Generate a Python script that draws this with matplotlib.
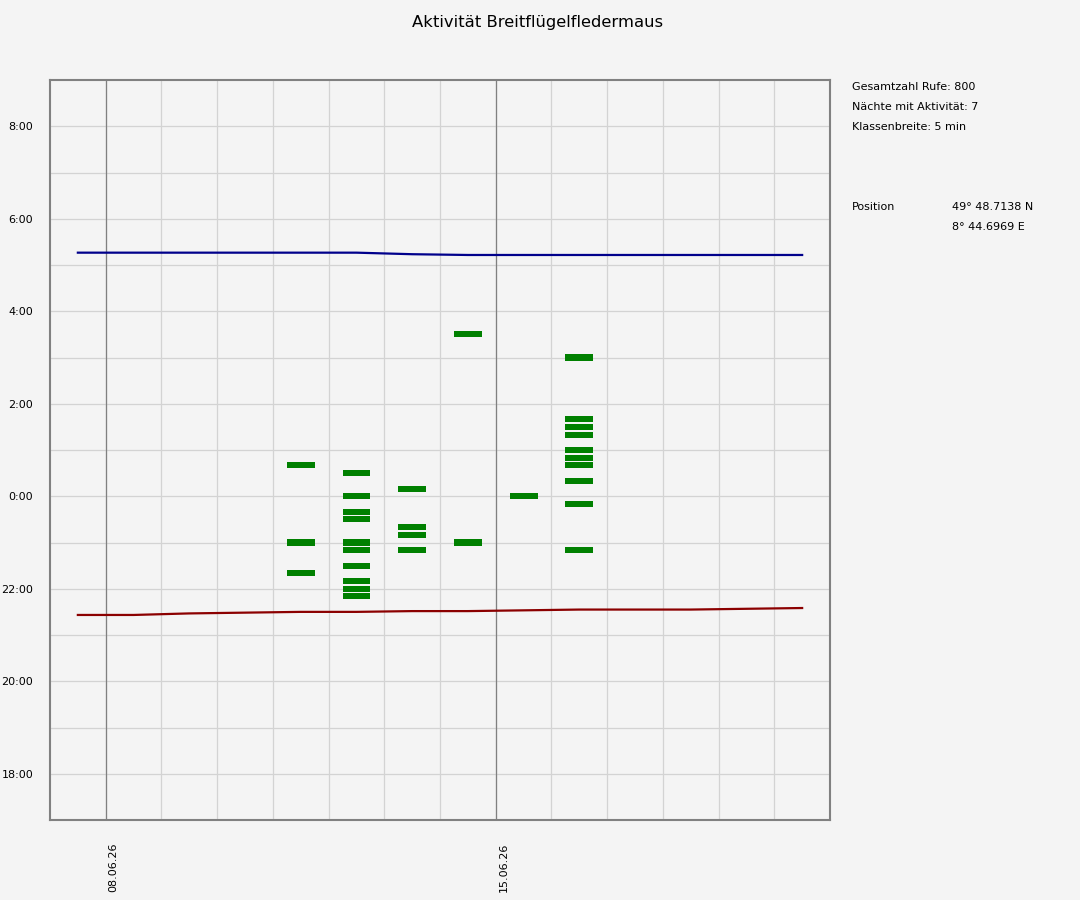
import datetime as dt
import numpy as np
import matplotlib
matplotlib.use("Agg")
import matplotlib.pyplot as plt
import matplotlib.dates as mdates
import matplotlib.transforms as mtransforms

title = "Aktivität Breitflügelfledermaus"

# nights with activity (evening date) and the 5-min classes with calls
nights = ["2026-06-11", "2026-06-12", "2026-06-13", "2026-06-14", "2026-06-15", "2026-06-16"]
call_times = [
    ["0:40", "23:00", "22:20"],
    ["0:30", "0:00", "23:40", "23:30", "23:00", "22:50", "22:30", "22:10", "22:00", "21:50"],
    ["0:10", "23:20", "23:10", "22:50"],
    ["3:30", "23:00"],
    ["0:00"],
    ["3:00", "1:40", "1:30", "1:20", "1:00", "0:50", "0:40", "0:20", "23:50", "22:50"],
]

# sunset / sunrise per night, 07.06 .. 20.06
sun_days = ["2026-06-%02d" % d for d in range(7, 21)]
sunset = ["21:26", "21:26", "21:28", "21:29", "21:30", "21:30", "21:31",
          "21:31", "21:32", "21:33", "21:33", "21:33", "21:34", "21:35"]
sunrise = ["5:16", "5:16", "5:16", "5:16", "5:16", "5:16", "5:14",
           "5:13", "5:13", "5:13", "5:13", "5:13", "5:13", "5:13"]

date_labels = ["2026-06-08", "2026-06-15"]

info_lines = ["Gesamtzahl Rufe: 800", "Nächte mit Aktivität: 7", "Klassenbreite: 5 min"]
pos_label = "Position"
pos_values = ["49° 48.7138 N", "8° 44.6969 E"]


def to_hours(s):
    h, m = s.split(":")
    v = int(h) + int(m) / 60.0
    if v >= 12:
        v -= 24
    return v


def dnum(s):
    return mdates.date2num(dt.datetime.strptime(s, "%Y-%m-%d"))


bg = "#f4f4f4"
fig = plt.figure(figsize=(10.8, 9), dpi=100, facecolor=bg)
ax = fig.add_axes([50 / 1080, 80 / 900, 780 / 1080, 740 / 900])
ax.set_facecolor(bg)

x0 = dnum("2026-06-07")
x1 = dnum("2026-06-21")
ax.set_xlim(x0, x1)
ax.set_ylim(-7, 9)

# grid
for d in np.arange(x0 + 1, x1):
    ax.axvline(d, color="#d3d3d3", lw=0.9, zorder=0)
for h in range(-6, 9):
    ax.axhline(h, color="#d3d3d3", lw=0.9, zorder=0)
for s in date_labels:
    ax.axvline(dnum(s), color="#808080", lw=0.9, zorder=1)

# sun lines
sx = [dnum(s) + 0.5 for s in sun_days]
ax.plot(sx, [to_hours(s) for s in sunset], color="#8b0000", lw=1.6, zorder=3)
ax.plot(sx, [to_hours(s) for s in sunrise], color="#00008b", lw=1.6, zorder=3)

# activity bars
bh = 0.13
for night, times in zip(nights, call_times):
    ys = np.array([to_hours(t) for t in times])
    ax.bar([dnum(night) + 0.5] * len(ys), [bh] * len(ys), width=0.5,
           bottom=ys - bh / 2, color="#008000", zorder=4)

# axes styling
for sp in ax.spines.values():
    sp.set_color("#808080")
    sp.set_linewidth(1.5)

ax.set_yticks(range(-6, 9, 2))
ax.set_yticklabels(["%d:00" % (h % 24) for h in range(-6, 9, 2)])
ax.set_xticks([dnum(s) for s in date_labels])
ax.set_xticklabels([dt.datetime.strptime(s, "%Y-%m-%d").strftime("%d.%m.%y") for s in date_labels],
                   rotation=90, va="top", ha="center")
ax.tick_params(axis="y", length=0, pad=12, labelsize=8)
ax.tick_params(axis="x", length=0, pad=16, labelsize=8)
offset = mtransforms.ScaledTranslation(8 / 100, 0, fig.dpi_scale_trans)
for lbl in ax.get_xticklabels():
    lbl.set_transform(lbl.get_transform() + offset)

fig.text(538 / 1080, 1 - 22 / 900, title, ha="center", va="center", fontsize=11.8)

for i, t in enumerate(info_lines):
    fig.text(852 / 1080, 1 - (87 + 20 * i) / 900, t, ha="left", va="center", fontsize=8)
fig.text(852 / 1080, 1 - 207 / 900, pos_label, ha="left", va="center", fontsize=8)
for i, t in enumerate(pos_values):
    fig.text(952 / 1080, 1 - (207 + 20 * i) / 900, t, ha="left", va="center", fontsize=8)

fig.savefig("out.png", dpi=100, facecolor=bg)
